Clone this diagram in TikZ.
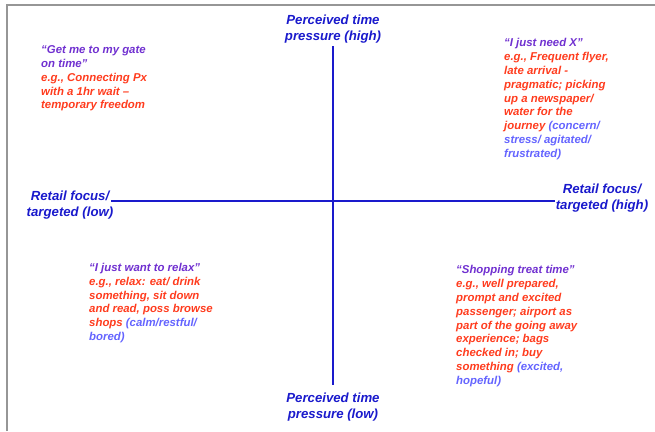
\documentclass[tikz,border=0pt]{standalone}
\usepackage{fontspec}
\setmainfont{Liberation Sans}
\definecolor{axisblue}{RGB}{26,26,204}
\definecolor{quotepurple}{RGB}{112,48,208}
\definecolor{exorange}{RGB}{255,60,30}
\definecolor{feelblue}{RGB}{100,100,255}
\definecolor{framegray}{RGB}{150,150,150}
\newcommand{\qp}{\color{quotepurple}}
\newcommand{\fb}{\color{feelblue}}
\begin{document}
\begin{tikzpicture}[x=1pt,y=-1pt,
  axislabel/.style={font=\fontsize{13.2}{16}\selectfont\bfseries\itshape, text=axisblue, align=center, inner sep=0pt},
  quadtext/.style={font=\fontsize{11.4}{13.8}\selectfont\bfseries\itshape, text=exorange, align=left, inner sep=0pt, anchor=north west},
  axisline/.style={draw=axisblue, line width=1.5pt},
  frameline/.style={draw=framegray, line width=1.5pt}]
\useasboundingbox (0,0) rectangle (655,431);
% frame
\draw[frameline] (7,431) -- (7,5) -- (655,5);
% axes
\coordinate (vtop) at (333,46);
\coordinate (vbot) at (333,385);
\coordinate (hleft) at (111,201);
\coordinate (hright) at (555,201);
\draw[axisline] (vtop) -- (vbot);
\draw[axisline] (hleft) -- (hright);
% axis labels
\node[axislabel] (ltop) at (333,29) {Perceived time\\pressure (high)};
\node[axislabel] (lbot) at (333,407) {Perceived time\\pressure (low)};
\node[axislabel] (lleft) at (70,205) {Retail focus/\\targeted (low)};
\node[axislabel] (lright) at (602,198.5) {Retail focus/\\targeted (high)};
% quadrants
\node[quadtext] (qtl) at (41,45.5) {\qp“Get me to my gate\\\qp on time”\\e.g., Connecting Px\\with a 1hr wait –\\temporary freedom};
\node[quadtext] (qtr) at (504,38.5) {\qp“I just need X”\\e.g., Frequent flyer,\\late arrival -\\pragmatic; picking\\up a newspaper/\\water for the\\journey {\fb(concern/}\\\fb stress/ agitated/\\\fb frustrated)};
\node[quadtext] (qbl) at (89,263) {\qp“I just want to relax”\\e.g., relax: eat/ drink\\something, sit down\\and read, poss browse\\shops {\fb(calm/restful/}\\\fb bored)};
\node[quadtext] (qbr) at (456,265.5) {\qp“Shopping treat time”\\e.g., well prepared,\\prompt and excited\\passenger; airport as\\part of the going away\\experience; bags\\checked in; buy\\something {\fb(excited,}\\\fb hopeful)};
\end{tikzpicture}
\end{document}
